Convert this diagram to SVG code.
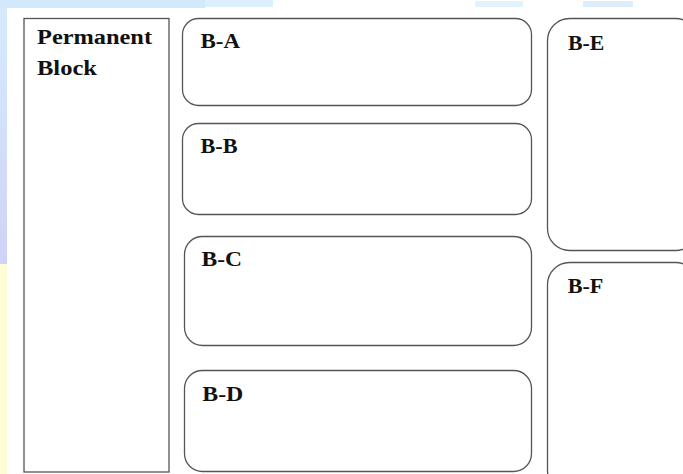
<svg xmlns="http://www.w3.org/2000/svg" width="683" height="474" viewBox="0 0 683 474">
  <defs>
    <linearGradient id="leftBlue" x1="0" y1="0" x2="0" y2="1">
      <stop offset="0" stop-color="#d6ebfc"/>
      <stop offset="1" stop-color="#cfd3f8"/>
    </linearGradient>
  </defs>
  <style>
    .box { fill: #ffffff; stroke: #555555; stroke-width: 1.3; }
    .lbl { font-family: "Liberation Serif", "Times New Roman", serif; font-weight: bold; font-size: 20px; fill: #111111; }
  </style>
  <!-- background -->
  <rect x="0" y="0" width="683" height="474" fill="#ffffff"/>
  <rect x="0" y="0" width="7" height="264" fill="url(#leftBlue)"/>
  <rect x="0" y="264" width="7" height="210" fill="#fffdd6"/>
  <rect x="0" y="0" width="205" height="8" fill="#d2e8fb"/>
  <rect x="205" y="0" width="68" height="7" fill="#dcf0fc"/>
  <rect x="475" y="1" width="48" height="6" fill="#e2f3fd"/>
  <rect x="583" y="1" width="50" height="6" fill="#dcedfc"/>

  <g id="permanent">
    <rect class="box" x="24" y="18.5" width="145" height="453.5"/>
    <text class="lbl" x="37" y="44" textLength="115" lengthAdjust="spacingAndGlyphs">Permanent</text>
    <text class="lbl" x="37" y="75" textLength="60" lengthAdjust="spacingAndGlyphs">Block</text>
  </g>
  <g id="b-a">
    <rect class="box" x="182.5" y="18.5" width="349" height="87" rx="16"/>
    <text class="lbl" x="200.5" y="47.5" textLength="39.5" lengthAdjust="spacingAndGlyphs">B-A</text>
  </g>
  <g id="b-b">
    <rect class="box" x="182.5" y="123.5" width="349" height="91" rx="16"/>
    <text class="lbl" x="200.5" y="152.7" textLength="37" lengthAdjust="spacingAndGlyphs">B-B</text>
  </g>
  <g id="b-c">
    <rect class="box" x="184.5" y="236.5" width="347" height="109" rx="18"/>
    <text class="lbl" x="201.5" y="265.5" textLength="40.5" lengthAdjust="spacingAndGlyphs">B-C</text>
  </g>
  <g id="b-d">
    <rect class="box" x="184.5" y="370.5" width="347" height="101" rx="18"/>
    <text class="lbl" x="202.3" y="400.7" textLength="41" lengthAdjust="spacingAndGlyphs">B-D</text>
  </g>
  <g id="b-e">
    <rect class="box" x="547.5" y="18.5" width="150" height="232" rx="22"/>
    <text class="lbl" x="568" y="50" textLength="36.3" lengthAdjust="spacingAndGlyphs">B-E</text>
  </g>
  <g id="b-f">
    <rect class="box" x="547.5" y="262.5" width="150" height="230" rx="22"/>
    <text class="lbl" x="567.7" y="293.3" textLength="35.6" lengthAdjust="spacingAndGlyphs">B-F</text>
  </g>
  <g id="connectors"/>
</svg>
